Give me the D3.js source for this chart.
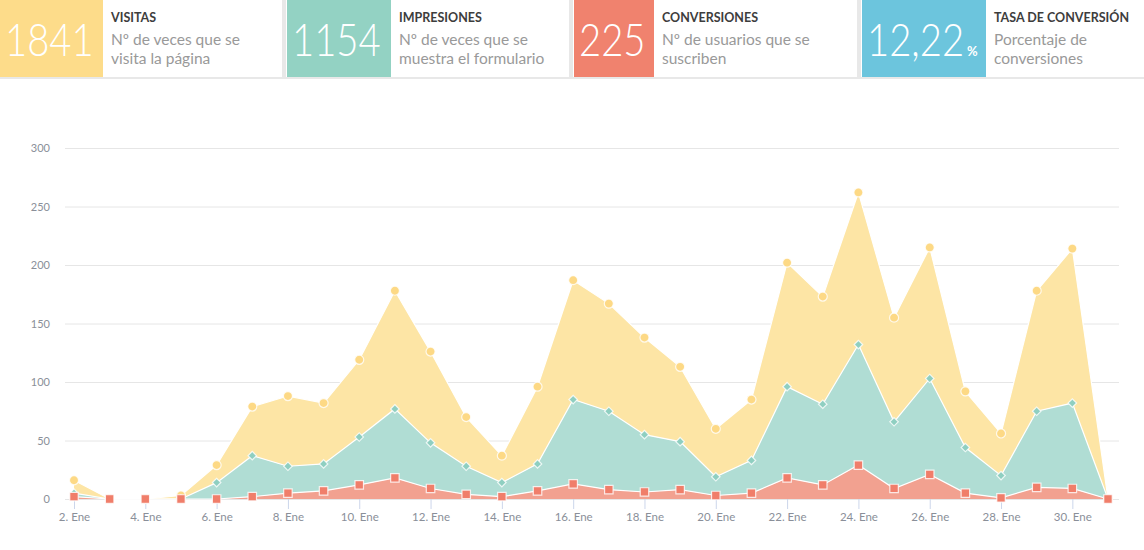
<!DOCTYPE html>
<html>
<head>
<meta charset="utf-8">
<script src="https://cdn.jsdelivr.net/npm/d3@7"></script>
<style>
  body { margin: 0; background: #fff; }
  svg { display: block; font-family: Lato, "Open Sans", sans-serif; }
</style>
</head>
<body>
<svg width="1144" height="550"></svg>
<script>
const svg = d3.select('svg')

// header cards
const cardTitles = ['VISITAS', 'IMPRESIONES', 'CONVERSIONES', 'TASA DE CONVERSIÓN']
const cardNumbers = ['1841', '1154', '225', '12,22']
const cardUnits = ['', '', '', '%']
const cardLines = [
  ['Nº de veces que se', 'visita la página'],
  ['Nº de veces que se', 'muestra el formulario'],
  ['Nº de usuarios que se', 'suscriben'],
  ['Porcentaje de', 'conversiones']
]
const cardColors = ['#fddc8a', '#93d2c3', '#f0826e', '#6cc5dd']
const cardX = [0, 287, 574, 862]
const boxWidth = [103, 104, 80, 124]

// chart data: days of January
const days = d3.range(2, 32)
const conversiones = [2, 0, 0, 0, 0, 2, 5, 7, 12, 18, 9, 4, 2, 7, 13, 8, 6, 8, 3, 5, 18, 12, 29, 9, 21, 5, 1, 10, 9, 0]
const impresiones = [3, 0, 0, 0, 14, 35, 23, 23, 41, 59, 39, 24, 12, 23, 72, 67, 49, 41, 16, 28, 78, 69, 103, 57, 82, 39, 19, 65, 73, 0]
const visitas = [11, 0, 0, 3, 15, 42, 60, 52, 66, 101, 78, 42, 23, 66, 102, 92, 83, 64, 41, 52, 106, 92, 130, 89, 112, 48, 36, 103, 132, 0]
const yTicks = [0, 50, 100, 150, 200, 250, 300]
const xTicks = d3.range(2, 31, 2)

const width = 1144

// --- cards
svg.append('rect')
  .attr('x', 0).attr('y', 77).attr('width', width).attr('height', 2)
  .attr('fill', '#e8e8e8')

cardTitles.forEach((title, i) => {
  const x0 = cardX[i]
  if (i > 0) {
    svg.append('rect')
      .attr('x', x0 - 5).attr('y', 0).attr('width', 4).attr('height', 78)
      .attr('fill', '#e8e8e8')
  }
  svg.append('rect')
    .attr('x', x0).attr('y', 0).attr('width', boxWidth[i]).attr('height', 77)
    .attr('fill', cardColors[i])
  // Lato is wider than the original font, so squeeze the big numbers
  const num = svg.append('text')
    .attr('transform', `translate(${x0 + 5},56) scale(0.85,1)`)
    .attr('fill', '#fff')
    .attr('font-size', 45)
    .attr('font-weight', 300)
    .text(cardNumbers[i])
  if (cardUnits[i]) {
    const w = num.node().getBBox().width * 0.85
    svg.append('text')
      .attr('x', x0 + 5 + w + 3)
      .attr('y', 56)
      .attr('fill', '#fff')
      .attr('font-size', 13)
      .attr('font-weight', 700)
      .text(cardUnits[i])
  }
  const tx = x0 + boxWidth[i] + 8
  svg.append('text')
    .attr('x', tx).attr('y', 22)
    .attr('fill', '#3d3d3d')
    .attr('font-size', 12.5)
    .attr('font-weight', 700)
    .text(title)
  cardLines[i].forEach((line, j) => {
    svg.append('text')
      .attr('x', tx).attr('y', 45 + j * 19)
      .attr('fill', '#999')
      .attr('font-size', 15.5)
      .text(line)
  })
})

// --- chart
const plotLeft = 65
const plotRight = 1119
const x = d3.scaleLinear().domain([2, 31]).range([74, 1108])
const y = d3.scaleLinear().domain([0, 300]).range([499, 148])

const grid = svg.append('g')
grid.selectAll('line')
  .data(yTicks)
  .join('line')
  .attr('x1', plotLeft).attr('x2', plotRight)
  .attr('y1', d => y(d) + 0.5).attr('y2', d => y(d) + 0.5)
  .attr('stroke', '#e6e6e6')

grid.selectAll('text')
  .data(yTicks)
  .join('text')
  .attr('x', 50)
  .attr('y', d => y(d) + 4)
  .attr('text-anchor', 'end')
  .attr('fill', '#8a8f99')
  .attr('font-size', 11)
  .text(d => d)

const xAxis = d3.axisBottom(x)
  .tickValues(xTicks)
  .tickSize(10)
  .tickPadding(4)
  .tickFormat(d => d + '. Ene')

const xg = svg.append('g')
  .attr('transform', 'translate(0,499)')
  .call(xAxis)
xg.select('.domain').remove()
xg.selectAll('.tick line').attr('stroke', '#ccd6eb')
xg.selectAll('.tick text')
  .attr('fill', '#8a8f99')
  .attr('font-size', 11.5)
  .attr('font-family', 'Lato, sans-serif')

const rows = days.map((d, i) => ({
  day: d,
  conversiones: conversiones[i],
  impresiones: impresiones[i],
  visitas: visitas[i]
}))

const keys = ['conversiones', 'impresiones', 'visitas']
const areaColors = { conversiones: '#f2a190', impresiones: '#b0ddd4', visitas: '#fde5a5' }
const markerColors = { conversiones: '#f07e6a', impresiones: '#8fcfc1', visitas: '#fdd985' }

const stacked = d3.stack().keys(keys)(rows)

const area = d3.area()
  .x(d => x(d.data.day))
  .y0(d => y(d[0]))
  .y1(d => y(d[1]))

const topLine = d3.line()
  .x(d => x(d.data.day))
  .y(d => y(d[1]))

// draw top series first so lower ones sit over them
stacked.slice().reverse().forEach(s => {
  svg.append('path')
    .datum(s)
    .attr('d', area)
    .attr('fill', areaColors[s.key])
})

stacked.slice().reverse().forEach(s => {
  svg.append('path')
    .datum(s)
    .attr('d', topLine)
    .attr('fill', 'none')
    .attr('stroke', '#fff')
    .attr('stroke-width', 1.2)
})

const symbols = {
  visitas: d3.symbol().type(d3.symbolCircle).size(64),
  impresiones: d3.symbol().type(d3.symbolSquare).size(36),
  conversiones: d3.symbol().type(d3.symbolSquare).size(72)
}
const rotation = { visitas: 0, impresiones: 45, conversiones: 0 }

stacked.slice().reverse().forEach(s => {
  svg.append('g')
    .selectAll('path')
    .data(s)
    .join('path')
    .attr('transform', d => `translate(${x(d.data.day)},${y(d[1])}) rotate(${rotation[s.key]})`)
    .attr('d', symbols[s.key])
    .attr('fill', markerColors[s.key])
    .attr('stroke', '#fff')
    .attr('stroke-opacity', 0.8)
    .attr('stroke-width', 1.2)
})
</script>
</body>
</html>
